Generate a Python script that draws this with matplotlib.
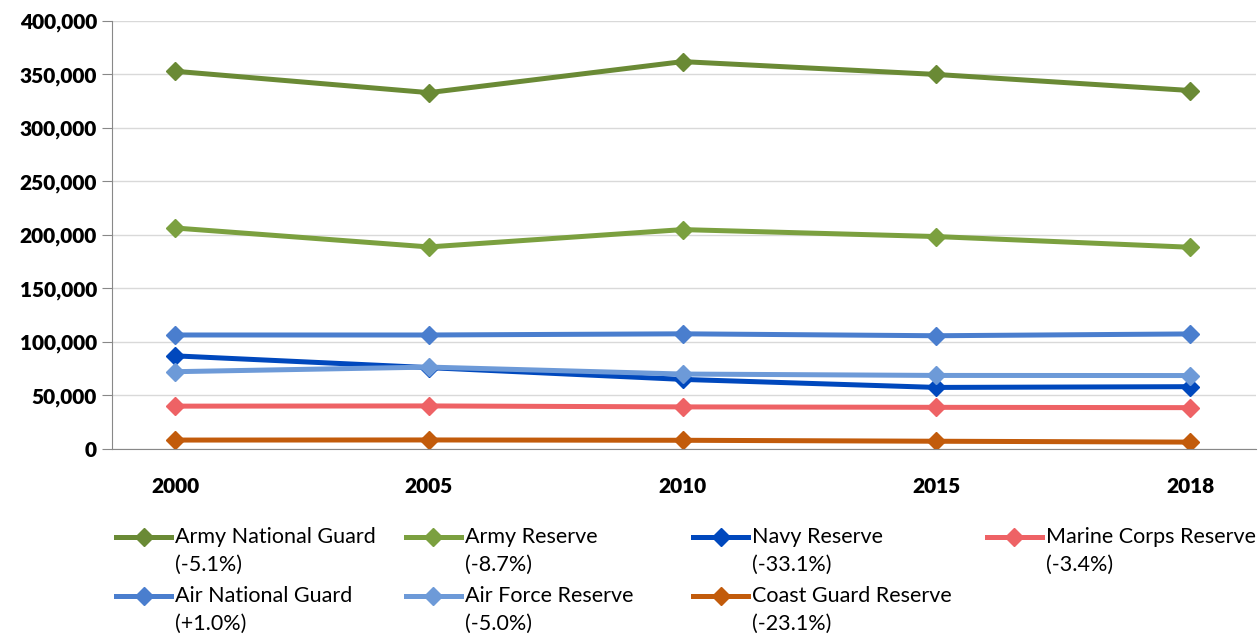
import matplotlib
matplotlib.use("Agg")
import matplotlib.pyplot as plt
from matplotlib.lines import Line2D
from matplotlib.ticker import FuncFormatter

years = ["2000", "2005", "2010", "2015", "2018"]

army_ng = [353000, 333000, 362000, 350000, 335000]
army_res = [206500, 188800, 205000, 198500, 188500]
navy_res = [87000, 76000, 65000, 57500, 58200]
marine_res = [40000, 40200, 39300, 38900, 38600]
air_ng = [106500, 106500, 107600, 105800, 107500]
af_res = [72200, 76500, 70000, 68700, 68600]
cg_res = [8300, 8400, 8100, 7200, 6400]

names = ["Army National Guard", "Army Reserve", "Navy Reserve", "Marine Corps Reserve",
         "Air National Guard", "Air Force Reserve", "Coast Guard Reserve"]
changes = ["(-5.1%)", "(-8.7%)", "(-33.1%)", "(-3.4%)", "(+1.0%)", "(-5.0%)", "(-23.1%)"]
series = [army_ng, army_res, navy_res, marine_res, air_ng, af_res, cg_res]
colors = ["#6A8A35", "#7BA03F", "#0048BD", "#EE6265", "#4A7ECE", "#6D9AD8", "#C25B0B"]

plt.rcParams['font.family'] = ['Lato', 'DejaVu Sans']

fig = plt.figure(figsize=(12.6, 6.35), dpi=100)
ax = fig.add_axes([0.089, 0.293, 0.908, 0.674])

x = range(len(years))
for vals, c in zip(series, colors):
    ax.plot(x, vals, color=c, lw=3.6, marker="D", markersize=9, solid_capstyle="round")

ax.set_ylim(0, 400000)
ax.set_yticks(range(0, 400001, 50000))
ax.yaxis.set_major_formatter(FuncFormatter(lambda v, p: f"{int(v):,}"))
ax.set_xlim(-0.248, 4.26)
ax.set_xticks(list(x))
ax.set_xticklabels(years)
ax.grid(axis="y", color="#D9D9D9", lw=1)
ax.set_axisbelow(True)
for s in ["top", "right"]:
    ax.spines[s].set_visible(False)
ax.spines["left"].set_color("#888888")
ax.spines["bottom"].set_color("#888888")
ax.tick_params(axis="y", length=7, color="#888888", labelsize=15, pad=4)
ax.tick_params(axis="x", length=0, labelsize=15, pad=20)
for lab in ax.get_yticklabels() + ax.get_xticklabels():
    lab.set_fontweight("heavy")

# legend laid out like the original (4 columns, two-line labels)
col_x = [0.092, 0.322, 0.550, 0.783]
row_y = [0.155, 0.062]
for i, (n, ch, c) in enumerate(zip(names, changes, colors)):
    cx = col_x[i % 4]
    ry = row_y[i // 4]
    fig.add_artist(Line2D([cx, cx + 0.044], [ry, ry], transform=fig.transFigure,
                          color=c, lw=3.6))
    fig.add_artist(Line2D([cx + 0.022], [ry], transform=fig.transFigure,
                          color=c, marker="D", markersize=9, lw=0))
    fig.text(cx + 0.047, ry, n, fontsize=15.5, va="center", ha="left")
    fig.text(cx + 0.047, ry - 0.045, ch, fontsize=15.5, va="center", ha="left")

fig.savefig("out.png", dpi=100)
